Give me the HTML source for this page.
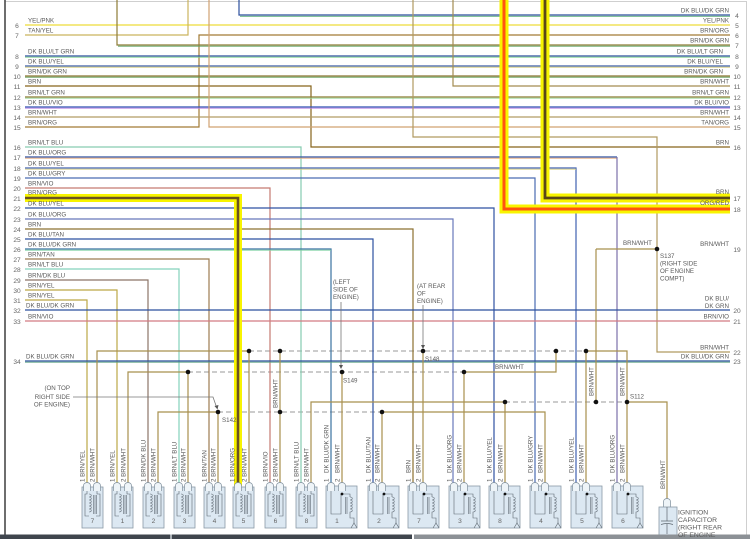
<!DOCTYPE html>
<html><head><meta charset="utf-8"><style>
html,body{margin:0;padding:0;background:#fff;width:750px;height:539px;overflow:hidden}
svg{display:block}
text{font-family:"Liberation Sans",sans-serif;fill:#5a5a5a;font-size:6.2px}
.n{font-size:6.6px;fill:#666;text-anchor:middle}
.r{text-anchor:end}
</style></head><body>
<svg width="750" height="539" viewBox="0 0 750 539" xmlns="http://www.w3.org/2000/svg">
<defs>
<g id="ca">
<rect x="0" y="487" width="21" height="41" fill="#dce8f2" stroke="#8a99a6" stroke-width="0.8"/>
<g fill="none" stroke="#5d6770" stroke-width="0.6">
<path d="M5,491V494H3V516H7"/>
<path d="M7,494c3,0 3,3 0,3c3,0 3,3 0,3c3,0 3,3 0,3c3,0 3,3 0,3c3,0 3,3 0,3c3,0 3,3 0,3"/>
<path d="M11.5,495V514M13,495V514M14.5,495V514"/>
<path d="M15,491V494H18V516H14"/>
</g>
</g>
<g id="cb">
<rect x="0" y="486" width="31" height="42" fill="#dce8f2" stroke="#8a99a6" stroke-width="0.8"/>
<g fill="none" stroke="#5d6770" stroke-width="0.6">
<path d="M5,491V514H15V494"/>
<path d="M16,494H24V497"/>
<path d="M24,497c3,0 3,3 0,3c3,0 3,3 0,3c3,0 3,3 0,3c3,0 3,3 0,3c3,0 3,3 0,3V518H28V523"/>
<path d="M19.5,497V514M21,497V514"/>
<path d="M25,528L28,523L31,528"/>
</g>
<circle cx="16" cy="494" r="1.4" fill="#111"/>
</g>
<path id="pin" d="M-3.5,491V485.5A3.5,3 0 0 1 3.5,485.5V491" fill="#eef4f8" stroke="#7d8d9b" stroke-width="0.7"/>
</defs>
<rect width="750" height="539" fill="#fff"/>
<!-- borders -->
<path d="M5,1.5H746.5V536" fill="none" stroke="#cfcfcf" stroke-width="1"/>
<path d="M5,0V536" stroke="#4a4a4a" stroke-width="1.6"/>

<!-- dashed splice lines -->
<g fill="none" stroke="#9a9a9a" stroke-width="1" stroke-dasharray="5 3">
<path d="M249,351H586"/>
<path d="M188,372H464"/>
<path d="M218,412H382"/>
<path d="M505,402H627"/>
</g>

<!-- wires -->
<g fill="none" stroke-width="1.2">
<path d="M239,0V15H730" stroke="#2c4f9e"/>
<path d="M240,16.3H730" stroke="#5fb07a" stroke-width="0.8"/>
<path d="M25,25H730" stroke="#f0e25a" stroke-width="1.6"/>
<path d="M25,35H188V0" stroke="#cbb45e"/>
<path d="M730,35H199V127H25" stroke="#a27a34"/>
<path d="M117,0V45H730" stroke="#8e7c36"/>
<path d="M118,46.2H730" stroke="#5aa060" stroke-width="0.8"/>
<path d="M25,56H730" stroke="#2c4f9e"/>
<path d="M25,57.2H730" stroke="#7dd08c" stroke-width="0.9"/>
<path d="M25,66H730" stroke="#3a5ca8"/>
<path d="M25,67.2H730" stroke="#d0c878" stroke-width="0.9"/>
<path d="M25,76H730" stroke="#8a7330"/>
<path d="M25,77.2H730" stroke="#5a9a50" stroke-width="0.9"/>
<path d="M25,86H311V147H730" stroke="#86631a"/>
<path d="M453,0V86H730" stroke="#a38c52"/>
<path d="M25,97H730" stroke="#8a7a30"/>
<path d="M25,98.2H730" stroke="#9ad89a" stroke-width="0.9"/>
<path d="M25,107H730" stroke="#2f50b0"/>
<path d="M25,108.2H730" stroke="#b884e4" stroke-width="0.9"/>
<path d="M25,117H730" stroke="#b29c64"/>
<path d="M209,0V127H730" stroke="#d0a272"/>
<path d="M413,0V137H657V352H730" stroke="#b09a60"/>
<path d="M25,147H301V486" stroke="#86ccb0"/>
<path d="M25,157H617" stroke="#2f50a0"/>
<path d="M25,158.2H617" stroke="#e3a878" stroke-width="0.9"/>
<path d="M617,157V486" stroke="#7c70aa"/>
<path d="M25,168H576V486" stroke="#4062b0"/>
<path d="M25,169.2H576" stroke="#d4cc84" stroke-width="0.9"/>
<path d="M25,178H535V486" stroke="#4a6cb2"/>
<path d="M25,188H270V486" stroke="#c57a72"/>
<path d="M25,208H494V486" stroke="#2f52a2"/>
<path d="M25,219H453V486" stroke="#6878ba"/>
<path d="M25,229H413V486" stroke="#8c7030"/>
<path d="M25,239H373V486" stroke="#2c50a0"/>
<path d="M25,249H331V486" stroke="#3a72a0"/>
<path d="M25,250.2H331" stroke="#7cd0a0" stroke-width="0.9"/>
<path d="M25,259H209V486" stroke="#9c7c52"/>
<path d="M25,269H179V486" stroke="#84d2bc"/>
<path d="M25,280H148V486" stroke="#8c7468"/>
<path d="M25,290H117V486" stroke="#bca846"/>
<path d="M25,300H87V486" stroke="#bca846"/>
<path d="M25,310H730" stroke="#2a4f9e"/>
<path d="M25,321H730" stroke="#d27a82"/>
<path d="M25,361H730" stroke="#2a4f9e"/>
<path d="M25,362.2H730" stroke="#5aa080" stroke-width="0.9"/>
</g>

<!-- BRN/WHT splice wires -->
<g fill="none" stroke="#a8904e" stroke-width="1.2">
<path d="M97,486V351H249"/>
<path d="M586,351H627V486"/>
<path d="M249,351V486"/>
<path d="M280,351V486"/>
<path d="M423,351V486"/>
<path d="M556,351V372H464"/>
<path d="M586,351V486"/>
<path d="M128,486V372H188"/>
<path d="M188,372V486"/>
<path d="M342,372V486"/>
<path d="M464,372V486"/>
<path d="M158,486V412H218"/>
<path d="M218,412V486"/>
<path d="M382,412H545V486"/>
<path d="M382,412V486"/>
<path d="M311,486V402H505"/>
<path d="M505,402V486"/>
<path d="M596,249H657"/>
<path d="M596,249V402"/>
<path d="M627,402H667V504"/>
</g>

<!-- highlighted circuits -->
<g fill="none">
<path d="M25,198H238V486" stroke="#f8f400" stroke-width="8"/>
<path d="M25,198H238V486" stroke="#6a5220" stroke-width="2.6"/>
<path d="M504,0V209H730" stroke="#f8f400" stroke-width="9"/>
<path d="M504,0V209H730" stroke="#ff5410" stroke-width="3"/>
<path d="M545,0V198H730" stroke="#f8f400" stroke-width="9"/>
<path d="M545,0V198H730" stroke="#5a4818" stroke-width="2.8"/>
</g>

<!-- splice dots -->
<g fill="#111">
<circle cx="249" cy="351" r="2.3"/><circle cx="280" cy="351" r="2.3"/><circle cx="423" cy="351" r="2.3"/>
<circle cx="556" cy="351" r="2.3"/><circle cx="586" cy="351" r="2.3"/>
<circle cx="188" cy="372" r="2.3"/><circle cx="342" cy="372" r="2.3"/><circle cx="464" cy="372" r="2.3"/>
<circle cx="218" cy="412" r="2.3"/><circle cx="280" cy="412" r="2.3"/><circle cx="382" cy="412" r="2.3"/>
<circle cx="505" cy="402" r="2.3"/><circle cx="596" cy="402" r="2.3"/><circle cx="627" cy="402" r="2.3"/>
<circle cx="657" cy="249" r="2.3"/>
</g>

<!-- pointer lines -->
<g fill="none" stroke="#777" stroke-width="0.8">
<path d="M341,302V366"/>
<path d="M423,305V346"/>
<path d="M73,397H213L216.5,407"/>
</g>
<g fill="#555">
<path d="M339,365L343,365L341,369Z"/>
<path d="M421,345L425,345L423,349Z"/>
<path d="M214.5,406L218.5,405L217.5,409.5Z"/>
</g>

<!-- connectors -->
<use href="#ca" x="82"/><use href="#ca" x="112"/><use href="#ca" x="143"/><use href="#ca" x="174"/>
<use href="#ca" x="204"/><use href="#ca" x="233"/><use href="#ca" x="265"/><use href="#ca" x="296"/>
<use href="#cb" x="326"/><use href="#cb" x="368"/><use href="#cb" x="408"/><use href="#cb" x="449"/>
<use href="#cb" x="489"/><use href="#cb" x="530"/><use href="#cb" x="571"/><use href="#cb" x="612"/>
<g>
<use href="#pin" x="87"/><use href="#pin" x="97"/><use href="#pin" x="117"/><use href="#pin" x="128"/>
<use href="#pin" x="148"/><use href="#pin" x="158"/><use href="#pin" x="179"/><use href="#pin" x="188"/>
<use href="#pin" x="209"/><use href="#pin" x="218"/><use href="#pin" x="238"/><use href="#pin" x="249"/>
<use href="#pin" x="270"/><use href="#pin" x="280"/><use href="#pin" x="301"/><use href="#pin" x="311"/>
<use href="#pin" x="331"/><use href="#pin" x="342"/><use href="#pin" x="373"/><use href="#pin" x="382"/>
<use href="#pin" x="413"/><use href="#pin" x="423"/><use href="#pin" x="454"/><use href="#pin" x="464"/>
<use href="#pin" x="494"/><use href="#pin" x="505"/><use href="#pin" x="535"/><use href="#pin" x="545"/>
<use href="#pin" x="576"/><use href="#pin" x="586"/><use href="#pin" x="617"/><use href="#pin" x="627"/>
<use href="#pin" x="667" y="16"/>
</g>
<!-- ignition capacitor -->
<rect x="659" y="507" width="18" height="32" fill="#dce8f2" stroke="#8a99a6" stroke-width="0.8"/>
<g fill="none" stroke="#5d6770" stroke-width="0.7">
<path d="M667,507V521M661,521H673M661,524.5Q667,522.5 673,524.5M667,524V534"/>
</g>

<!-- connector numbers -->
<g class="n">
<text x="92.5" y="523" class="n">7</text><text x="122.5" y="523" class="n">1</text><text x="153.5" y="523" class="n">2</text><text x="184.5" y="523" class="n">3</text>
<text x="214.5" y="523" class="n">4</text><text x="243.5" y="523" class="n">5</text><text x="275.5" y="523" class="n">6</text><text x="306.5" y="523" class="n">8</text>
<text x="337" y="523" class="n">1</text><text x="379" y="523" class="n">2</text><text x="419" y="523" class="n">7</text><text x="460" y="523" class="n">3</text>
<text x="500" y="523" class="n">8</text><text x="541" y="523" class="n">4</text><text x="582" y="523" class="n">5</text><text x="623" y="523" class="n">6</text>
</g>

<!-- bottom bar -->
<rect x="0" y="534.5" width="412" height="4.5" fill="#3f454d"/>
<rect x="170" y="534.5" width="2" height="4.5" fill="#aab0b6"/>
<rect x="414" y="534.5" width="336" height="4.5" fill="#8c9196"/>

<!-- left numbers -->
<text class="n" x="17" y="28">6</text><text class="n" x="17" y="38">7</text><text class="n" x="17" y="59">8</text>
<text class="n" x="17" y="69">9</text><text class="n" x="17" y="79">10</text><text class="n" x="17" y="89">11</text>
<text class="n" x="17" y="100">12</text><text class="n" x="17" y="110">13</text><text class="n" x="17" y="120">14</text>
<text class="n" x="17" y="130">15</text><text class="n" x="17" y="150">16</text><text class="n" x="17" y="160">17</text>
<text class="n" x="17" y="171">18</text><text class="n" x="17" y="181">19</text><text class="n" x="17" y="191">20</text>
<text class="n" x="17" y="201">21</text><text class="n" x="17" y="211">22</text><text class="n" x="17" y="222">23</text>
<text class="n" x="17" y="232">24</text><text class="n" x="17" y="242">25</text><text class="n" x="17" y="252">26</text>
<text class="n" x="17" y="262">27</text><text class="n" x="17" y="272">28</text><text class="n" x="17" y="283">29</text>
<text class="n" x="17" y="293">30</text><text class="n" x="17" y="303">31</text><text class="n" x="17" y="313">32</text>
<text class="n" x="17" y="324">33</text><text class="n" x="17" y="364">34</text>

<!-- left labels -->
<text x="28" y="22.5">YEL/PNK</text><text x="28" y="32.5">TAN/YEL</text>
<text x="28" y="53.5">DK BLU/LT GRN</text><text x="28" y="63.5">DK BLU/YEL</text>
<text x="28" y="73.5">BRN/DK GRN</text><text x="28" y="83.5">BRN</text>
<text x="28" y="94.5">BRN/LT GRN</text><text x="28" y="104.5">DK BLU/VIO</text>
<text x="28" y="114.5">BRN/WHT</text><text x="28" y="124.5">BRN/ORG</text>
<text x="28" y="144.5">BRN/LT BLU</text><text x="28" y="154.5">DK BLU/ORG</text>
<text x="28" y="165.5">DK BLU/YEL</text><text x="28" y="175.5">DK BLU/GRY</text>
<text x="28" y="185.5">BRN/VIO</text><text x="28" y="194.5">BRN/ORG</text>
<text x="28" y="205.5">DK BLU/YEL</text><text x="28" y="216.5">DK BLU/ORG</text>
<text x="28" y="226.5">BRN</text><text x="28" y="236.5">DK BLU/TAN</text>
<text x="28" y="246.5">DK BLU/DK GRN</text><text x="28" y="256.5">BRN/TAN</text>
<text x="28" y="266.5">BRN/LT BLU</text><text x="28" y="277.5">BRN/DK BLU</text>
<text x="28" y="287.5">BRN/YEL</text><text x="28" y="297.5">BRN/YEL</text>
<text x="26" y="307.5">DK BLU/DK GRN</text><text x="28" y="318.5">BRN/VIO</text>
<text x="26" y="358.5">DK BLU/DK GRN</text>

<!-- right numbers -->
<text class="n" x="737" y="18">4</text><text class="n" x="737" y="28">5</text><text class="n" x="737" y="38">6</text>
<text class="n" x="737" y="48">7</text><text class="n" x="737" y="59">8</text><text class="n" x="737" y="69">9</text>
<text class="n" x="737" y="79">10</text><text class="n" x="737" y="89">11</text><text class="n" x="737" y="100">12</text>
<text class="n" x="737" y="110">13</text><text class="n" x="737" y="120">14</text><text class="n" x="737" y="130">15</text>
<text class="n" x="737" y="150">16</text><text class="n" x="737" y="201">17</text><text class="n" x="737" y="212">18</text>
<text class="n" x="737" y="252">19</text><text class="n" x="737" y="313">20</text><text class="n" x="737" y="324">21</text>
<text class="n" x="737" y="355">22</text><text class="n" x="737" y="364">23</text>

<!-- right labels -->
<text class="r" x="729" y="12.5">DK BLU/DK GRN</text><text class="r" x="729" y="22.5">YEL/PNK</text>
<text class="r" x="729" y="32.5">BRN/ORG</text><text class="r" x="729" y="42.5">BRN/DK GRN</text>
<text class="r" x="723" y="53.5">DK BLU/LT GRN</text><text class="r" x="723" y="63.5">DK BLU/YEL</text>
<text class="r" x="723" y="73.5">BRN/DK GRN</text><text class="r" x="729" y="83.5">BRN/WHT</text>
<text class="r" x="729" y="94.5">BRN/LT GRN</text><text class="r" x="729" y="104.5">DK BLU/VIO</text>
<text class="r" x="729" y="114.5">BRN/WHT</text><text class="r" x="729" y="124.5">TAN/ORG</text>
<text class="r" x="729" y="144.5">BRN</text><text class="r" x="729" y="194">BRN</text>
<text class="r" x="729" y="205">ORG/RED</text><text class="r" x="729" y="246">BRN/WHT</text>
<text class="r" x="729" y="300.5">DK BLU/</text><text class="r" x="729" y="308">DK GRN</text>
<text class="r" x="729" y="318.5">BRN/VIO</text><text class="r" x="729" y="349.5">BRN/WHT</text>
<text class="r" x="729" y="358.5">DK BLU/DK GRN</text>

<!-- misc labels -->
<text x="623" y="245">BRN/WHT</text>
<text x="660" y="258">S137</text><text x="660" y="265.5">(RIGHT SIDE</text>
<text x="660" y="273">OF ENGINE</text><text x="660" y="280.5">COMPT)</text>
<text x="333" y="284">(LEFT</text><text x="333" y="291.5">SIDE OF</text><text x="333" y="299">ENGINE)</text>
<text x="417" y="288">(AT REAR</text><text x="417" y="295.5">OF</text><text x="417" y="303">ENGINE)</text>
<text x="425" y="361">S148</text><text x="343" y="382.5">S149</text>
<text x="495" y="369">BRN/WHT</text>
<text class="r" x="70" y="390">(ON TOP</text><text class="r" x="70" y="399">RIGHT SIDE</text><text class="r" x="70" y="406.5">OF ENGINE)</text>
<text x="222" y="422">S142</text><text x="630" y="398.5">S112</text>
<text x="678" y="514.5" style="font-size:6.8px">IGNITION</text>
<text x="678" y="522" style="font-size:6.8px">CAPACITOR</text>
<text x="678" y="529.5" style="font-size:6.8px">(RIGHT REAR</text>
<text x="678" y="537" style="font-size:6.8px">OF ENGINE</text>

<!-- rotated labels -->
<g>
<text transform="translate(277.5,408) rotate(-90)">BRN/WHT</text>
<text transform="translate(593.5,396) rotate(-90)">BRN/WHT</text>
<text transform="translate(624.5,396) rotate(-90)">BRN/WHT</text>
<text transform="translate(665,489) rotate(-90)">BRN/WHT</text>

<text transform="translate(84.5,482) rotate(-90)">1 BRN/YEL</text>
<text transform="translate(94.5,482) rotate(-90)">2 BRN/WHT</text>
<text transform="translate(114.5,482) rotate(-90)">1 BRN/YEL</text>
<text transform="translate(125.5,482) rotate(-90)">2 BRN/WHT</text>
<text transform="translate(145.5,482) rotate(-90)">1 BRN/DK BLU</text>
<text transform="translate(155.5,482) rotate(-90)">2 BRN/WHT</text>
<text transform="translate(176.5,482) rotate(-90)">1 BRN/LT BLU</text>
<text transform="translate(185.5,482) rotate(-90)">2 BRN/WHT</text>
<text transform="translate(206.5,482) rotate(-90)">1 BRN/TAN</text>
<text transform="translate(215.5,482) rotate(-90)">2 BRN/WHT</text>
<text transform="translate(234.5,482) rotate(-90)">1 BRN/ORG</text>
<text transform="translate(246.5,482) rotate(-90)">2 BRN/WHT</text>
<text transform="translate(267.5,482) rotate(-90)">1 BRN/VIO</text>
<text transform="translate(277.5,482) rotate(-90)">2 BRN/WHT</text>
<text transform="translate(298.5,482) rotate(-90)">1 BRN/LT BLU</text>
<text transform="translate(308.5,482) rotate(-90)">2 BRN/WHT</text>

<text transform="translate(328.5,482) rotate(-90)">1</text>
<text transform="translate(328.5,473) rotate(-90)">DK BLU/DK GRN</text>
<text transform="translate(339.5,482) rotate(-90)">2</text>
<text transform="translate(339.5,473) rotate(-90)">BRN/WHT</text>
<text transform="translate(370.5,482) rotate(-90)">1</text>
<text transform="translate(370.5,473) rotate(-90)">DK BLU/TAN</text>
<text transform="translate(379.5,482) rotate(-90)">2</text>
<text transform="translate(379.5,473) rotate(-90)">BRN/WHT</text>
<text transform="translate(410.5,482) rotate(-90)">1</text>
<text transform="translate(410.5,473) rotate(-90)">BRN</text>
<text transform="translate(420.5,482) rotate(-90)">2</text>
<text transform="translate(420.5,473) rotate(-90)">BRN/WHT</text>
<text transform="translate(451.5,482) rotate(-90)">1</text>
<text transform="translate(451.5,473) rotate(-90)">DK BLU/ORG</text>
<text transform="translate(461.5,482) rotate(-90)">2</text>
<text transform="translate(461.5,473) rotate(-90)">BRN/WHT</text>
<text transform="translate(491.5,482) rotate(-90)">1</text>
<text transform="translate(491.5,473) rotate(-90)">DK BLU/YEL</text>
<text transform="translate(502.5,482) rotate(-90)">2</text>
<text transform="translate(502.5,473) rotate(-90)">BRN/WHT</text>
<text transform="translate(532.5,482) rotate(-90)">1</text>
<text transform="translate(532.5,473) rotate(-90)">DK BLU/GRY</text>
<text transform="translate(542.5,482) rotate(-90)">2</text>
<text transform="translate(542.5,473) rotate(-90)">BRN/WHT</text>
<text transform="translate(573.5,482) rotate(-90)">1</text>
<text transform="translate(573.5,473) rotate(-90)">DK BLU/YEL</text>
<text transform="translate(583.5,482) rotate(-90)">2</text>
<text transform="translate(583.5,473) rotate(-90)">BRN/WHT</text>
<text transform="translate(614.5,482) rotate(-90)">1</text>
<text transform="translate(614.5,473) rotate(-90)">DK BLU/ORG</text>
<text transform="translate(624.5,482) rotate(-90)">2</text>
<text transform="translate(624.5,473) rotate(-90)">BRN/WHT</text>
</g>
</svg>
</body></html>
